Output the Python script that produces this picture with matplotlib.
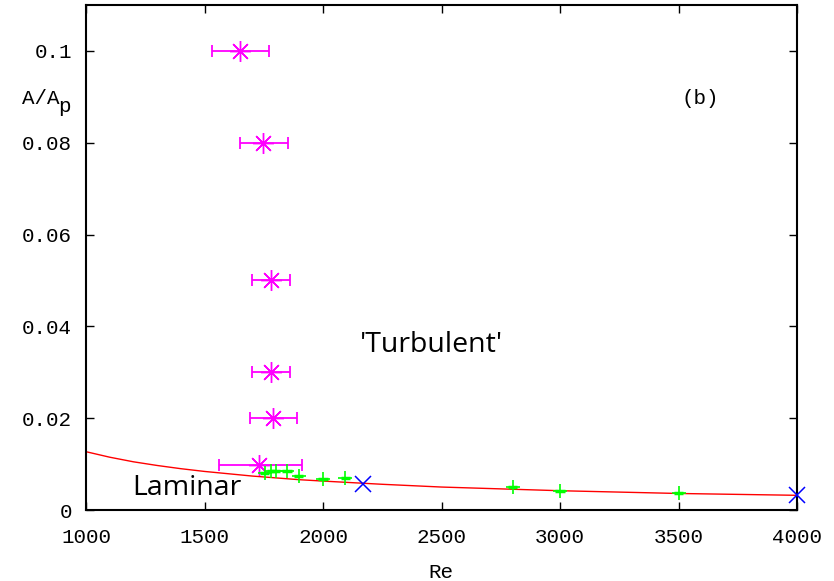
import matplotlib
matplotlib.use("Agg")
import matplotlib.pyplot as plt
import numpy as np

# ---- data ----
turb_re = [1650, 1748, 1779, 1779, 1790, 1732]
turb_a = [0.10, 0.08, 0.05, 0.03, 0.02, 0.0099]
turb_re_lo = [1530, 1651, 1700, 1700, 1692, 1563]
turb_re_hi = [1772, 1851, 1861, 1861, 1892, 1911]

green_re = [1754, 1782, 1800, 1848, 1897, 2000, 2094, 2800, 3000, 3500]
green_a = [0.0081, 0.0085, 0.0085, 0.0085, 0.0075, 0.0068, 0.0069, 0.0051, 0.0041, 0.0037]

blue_re = [2169, 4000]
blue_a = [0.0057, 0.0032]

curve_re = [1000, 1100, 1200, 1300, 1400, 1500, 1600, 1700, 1800, 1900, 2000,
            2250, 2500, 2750, 3000, 3250, 3500, 3750, 4000]
curve_a = [0.0127, 0.0115, 0.0105, 0.0097, 0.0090, 0.0084, 0.0079, 0.0074,
           0.0070, 0.0066, 0.0063, 0.0056, 0.0050, 0.0046, 0.0042, 0.0039,
           0.0036, 0.0034, 0.0032]

xticks = [1000, 1500, 2000, 2500, 3000, 3500, 4000]
yticks = [0, 0.02, 0.04, 0.06, 0.08, 0.1]
ytick_labels = ["0", "0.02", "0.04", "0.06", "0.08", "0.1"]

mono = "Liberation Mono"
sans = "Open Sans"
fs = 15

fig = plt.figure(figsize=(8.34, 5.81), dpi=100)
ax = fig.add_axes([86 / 834, 1 - 510 / 581, (797 - 86) / 834, (510 - 5) / 581])

ax.plot(curve_re, curve_a, color="#ff0000", lw=1.0, zorder=2)

xerr = [np.array(turb_re) - np.array(turb_re_lo), np.array(turb_re_hi) - np.array(turb_re)]
ax.errorbar(turb_re, turb_a, xerr=xerr, fmt="none", ecolor="#ff00ff",
            elinewidth=1.3, capsize=4, capthick=1.3, zorder=3)
ax.plot(turb_re, turb_a, linestyle="none", marker=(8, 2, 0), markersize=15,
        markeredgewidth=1.0, color="#ff00ff", zorder=4)

ax.errorbar(green_re, green_a, xerr=20, fmt="none", ecolor="#00ff00",
            elinewidth=2.5, capsize=0, zorder=3)
ax.plot(green_re, green_a, linestyle="none", marker="+", markersize=10,
        markeredgewidth=1.2, color="#00ff00", zorder=4)

ax.plot(blue_re, blue_a, linestyle="none", marker="x", markersize=11,
        markeredgewidth=1.1, color="#0000ff", zorder=5, clip_on=False)

ax.set_xlim(1000, 4000)
ax.set_ylim(0, 0.11)
ax.set_xticks(xticks)
ax.set_xticklabels([str(v) for v in xticks], fontfamily=mono, fontsize=fs)
ax.set_yticks(yticks)
ax.set_yticklabels(ytick_labels, fontfamily=mono, fontsize=fs)
ax.tick_params(direction="in", length=6, width=1.0, top=True, right=True,
               pad=10)
ax.tick_params(axis="x", pad=13)
for s in ax.spines.values():
    s.set_linewidth(1.5)

fig.text(441 / 834, 1 - 573 / 581, "Re", fontfamily=mono, fontsize=fs,
         ha="center", va="center")
fig.text(59 / 834, 1 - 98 / 581, "A/A", fontfamily=mono, fontsize=fs,
         ha="right", va="center")
fig.text(58 / 834, 1 - 106 / 581, "p", fontfamily=mono, fontsize=fs,
         ha="left", va="center")
fig.text(700 / 834, 1 - 99 / 581, "(b)", fontfamily=mono, fontsize=fs,
         ha="center", va="center")
fig.text(431 / 834, 1 - 345 / 581, "'Turbulent'", fontfamily=sans, fontsize=20.5,
         ha="center", va="center")
fig.text(187 / 834, 1 - 488 / 581, "Laminar", fontfamily=sans, fontsize=20.5,
         ha="center", va="center")

fig.savefig("out.png", dpi=100)
